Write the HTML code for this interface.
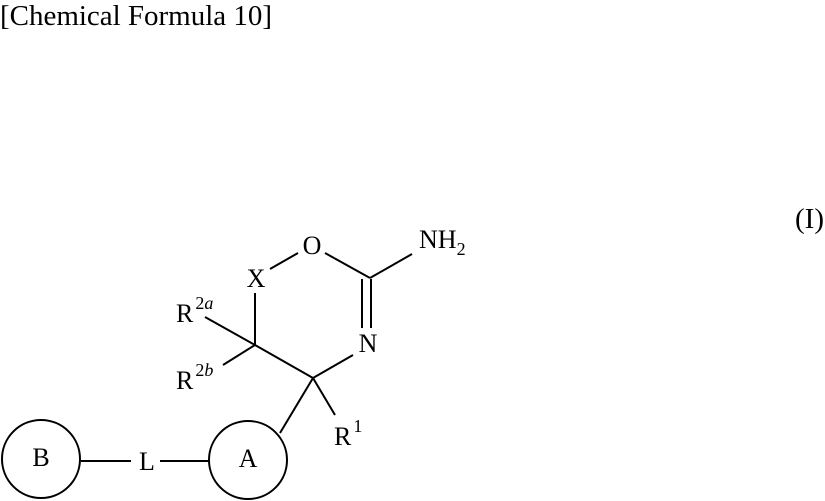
<!DOCTYPE html>
<html><head><meta charset="utf-8"><style>
html,body{margin:0;padding:0;background:#fff;}
svg{display:block;}
text{font-family:"Liberation Serif",serif;fill:#000;}
</style></head><body>
<svg width="825" height="501" viewBox="0 0 825 501" xmlns="http://www.w3.org/2000/svg">
<text x="0" y="25" font-size="29" textLength="272" lengthAdjust="spacingAndGlyphs">[Chemical Formula 10]</text>
<text x="795" y="228" font-size="29">(I)</text>
<g stroke="#000" stroke-width="2" fill="none">
<line x1="270" y1="269" x2="298" y2="253"/>
<line x1="325" y1="253" x2="370" y2="278"/>
<line x1="370" y1="278" x2="412" y2="254"/>
<line x1="362" y1="279" x2="362" y2="328"/>
<line x1="371" y1="279" x2="371" y2="328"/>
<line x1="353" y1="355" x2="313" y2="378"/>
<line x1="313" y1="378" x2="255" y2="345"/>
<line x1="255" y1="345" x2="255" y2="293"/>
<line x1="255" y1="345" x2="205" y2="317"/>
<line x1="255" y1="345" x2="223" y2="365"/>
<line x1="313" y1="378" x2="335" y2="415"/>
<line x1="313" y1="378" x2="280" y2="433"/>
<circle cx="248" cy="460" r="39"/>
<circle cx="41" cy="459" r="39"/>
<line x1="81" y1="461" x2="131" y2="461"/>
<line x1="160" y1="461" x2="210" y2="461"/>
</g>
<g font-size="26">
<text x="312" y="254" text-anchor="middle">O</text>
<text x="256" y="287" text-anchor="middle">X</text>
<text x="368" y="352" text-anchor="middle">N</text>
<text x="419" y="248">NH<tspan font-size="18" dy="7">2</tspan></text>
<text x="176" y="322">R<tspan font-size="18" dy="-13" dx="2">2<tspan font-style="italic">a</tspan></tspan></text>
<text x="176" y="389">R<tspan font-size="18" dy="-13" dx="2">2<tspan font-style="italic">b</tspan></tspan></text>
<text x="334" y="445">R<tspan font-size="18" dy="-13" dx="2">1</tspan></text>
<text x="248" y="467" text-anchor="middle">A</text>
<text x="41" y="466" text-anchor="middle">B</text>
<text x="147" y="470" text-anchor="middle">L</text>
</g>
</svg>
</body></html>
